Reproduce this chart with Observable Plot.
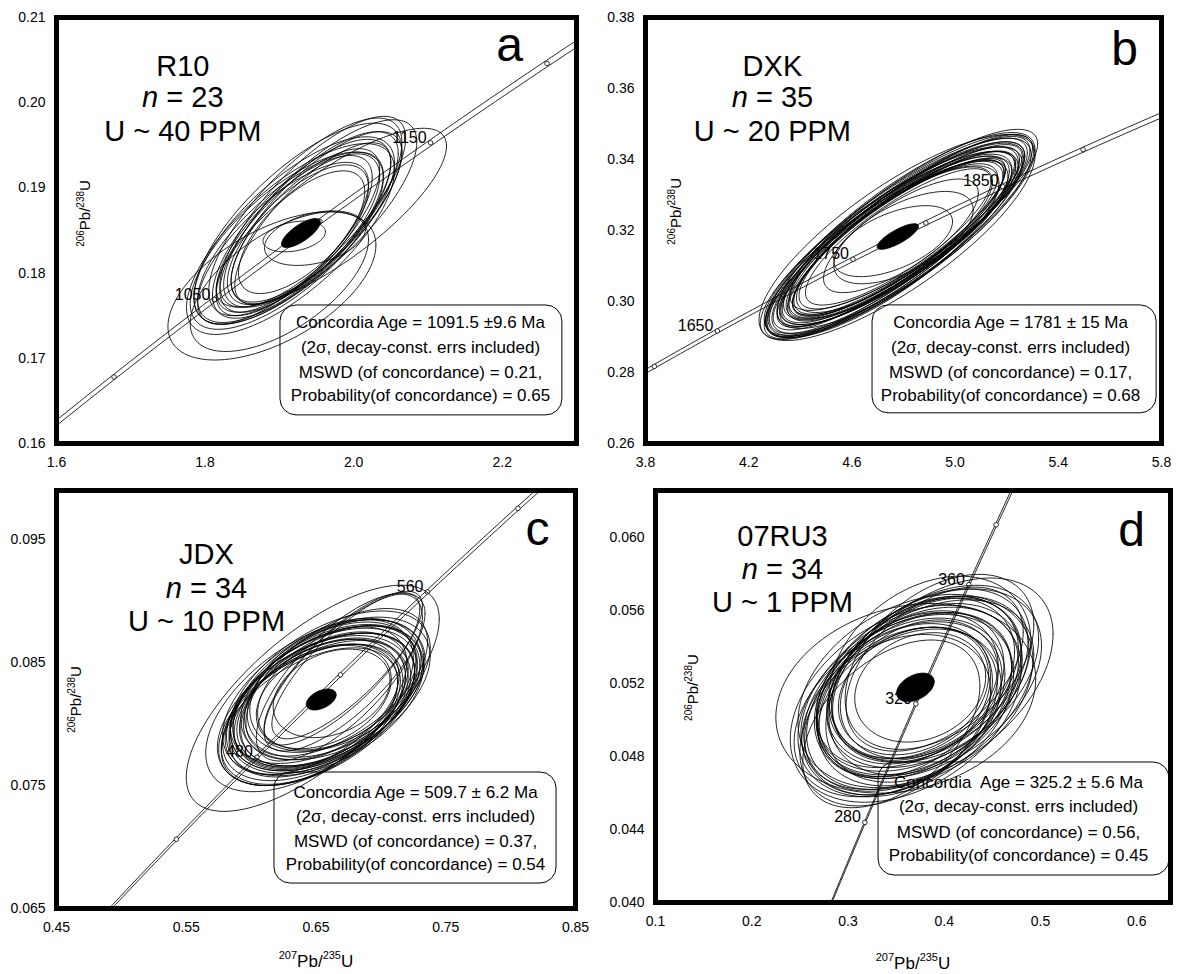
<!DOCTYPE html>
<html><head><meta charset="utf-8">
<script src="https://cdn.jsdelivr.net/npm/d3@7"></script>
<script src="https://cdn.jsdelivr.net/npm/@observablehq/plot@0.6"></script>
<style>
body{margin:0;background:#fff;}
#wrap{position:relative;width:1179px;height:974px;overflow:hidden;background:#fff;}
.panel{position:absolute;}
</style></head><body><div id="wrap"></div>
<script>
const FONT = '"Liberation Sans", Arial, Helvetica, sans-serif';
// decay constants (per year) and relative error used for the concordia band
const L238 = 1.55125e-10, L235 = 9.8485e-10, L235err = 0.0018;

// ---------- Panel a : R10 ----------
const aXTicks = [1.6, 1.8, 2.0, 2.2];
const aYTicks = [0.16, 0.17, 0.18, 0.19, 0.20, 0.21];
// [x, x-halfwidth, y, y-halfwidth, rho]
const aEllipses = [
  [1.970, 0.155, 0.1865, 0.0105, 0.80],
  [1.890, 0.140, 0.1785, 0.0087, 0.55],
  [1.900, 0.120, 0.1790, 0.0082, 0.60],
  [1.925, 0.140, 0.1858, 0.0118, 0.73],
  [1.935, 0.130, 0.1866, 0.0116, 0.75],
  [1.945, 0.125, 0.1872, 0.0112, 0.77],
  [1.920, 0.135, 0.1850, 0.0110, 0.72],
  [1.930, 0.120, 0.1852, 0.0105, 0.74],
  [1.915, 0.125, 0.1842, 0.0100, 0.73],
  [1.940, 0.120, 0.1860, 0.0106, 0.76],
  [1.925, 0.110, 0.1848, 0.0098, 0.75],
  [1.910, 0.130, 0.1838, 0.0104, 0.71],
  [1.950, 0.115, 0.1866, 0.0100, 0.75],
  [1.920, 0.105, 0.1846, 0.0092, 0.72],
  [1.935, 0.100, 0.1852, 0.0088, 0.70],
  [1.905, 0.115, 0.1835, 0.0095, 0.74],
  [1.945, 0.105, 0.1858, 0.0095, 0.76],
  [1.925, 0.095, 0.1845, 0.0082, 0.68],
  [1.948, 0.068, 0.1841, 0.0032, 0.35],
  [1.920, 0.042, 0.1843, 0.0018, 0.30],
  [1.930, 0.085, 0.1848, 0.0072, 0.66],
  [1.915, 0.140, 0.1840, 0.0112, 0.72],
  [1.955, 0.130, 0.1870, 0.0110, 0.76]
];
const aMean = [1.929, 0.026, 0.1847, 0.0017, 0.75];
const aAgeMarks = [1000, 1050, 1100, 1150, 1200];
const aAgeLabels = [1050, 1150];
const aAgeRange = [900, 1300];
const aSample = ["R10", "n = 23", "U ~ 40 PPM"];
const aBoxLines = ["Concordia Age = 1091.5 \u00b19.6 Ma", "(2\u03c3, decay-const. errs included)", "MSWD (of concordance) = 0.21,", "Probability(of concordance) = 0.65"];

// ---------- Panel b : DXK ----------
const bXTicks = [3.8, 4.2, 4.6, 5.0, 5.4, 5.8];
const bYTicks = [0.26, 0.28, 0.30, 0.32, 0.34, 0.36, 0.38];
const bEllipses = [
  [4.775, 0.535, 0.3180, 0.0290, 0.80],
  [4.760, 0.500, 0.3170, 0.0265, 0.83],
  [4.790, 0.480, 0.3190, 0.0260, 0.84],
  [4.800, 0.470, 0.3195, 0.0255, 0.85],
  [4.750, 0.460, 0.3160, 0.0250, 0.83],
  [4.780, 0.500, 0.3185, 0.0275, 0.85],
  [4.770, 0.450, 0.3175, 0.0240, 0.82],
  [4.810, 0.490, 0.3200, 0.0270, 0.86],
  [4.740, 0.480, 0.3150, 0.0255, 0.85],
  [4.795, 0.440, 0.3188, 0.0235, 0.81],
  [4.765, 0.470, 0.3172, 0.0252, 0.86],
  [4.785, 0.510, 0.3182, 0.0278, 0.83],
  [4.755, 0.430, 0.3165, 0.0230, 0.82],
  [4.805, 0.460, 0.3198, 0.0248, 0.84],
  [4.775, 0.420, 0.3178, 0.0225, 0.85],
  [4.820, 0.470, 0.3205, 0.0260, 0.85],
  [4.745, 0.500, 0.3158, 0.0265, 0.83],
  [4.790, 0.455, 0.3192, 0.0244, 0.82],
  [4.760, 0.490, 0.3168, 0.0268, 0.86],
  [4.780, 0.410, 0.3180, 0.0220, 0.83],
  [4.800, 0.430, 0.3190, 0.0232, 0.85],
  [4.770, 0.395, 0.3176, 0.0212, 0.82],
  [4.735, 0.470, 0.3148, 0.0250, 0.82],
  [4.815, 0.445, 0.3202, 0.0240, 0.86],
  [4.785, 0.520, 0.3186, 0.0285, 0.84],
  [4.765, 0.380, 0.3174, 0.0205, 0.80],
  [4.795, 0.400, 0.3194, 0.0215, 0.83],
  [4.750, 0.440, 0.3162, 0.0235, 0.85],
  [4.810, 0.500, 0.3200, 0.0276, 0.82],
  [4.780, 0.360, 0.3182, 0.0192, 0.82],
  [4.800, 0.270, 0.3180, 0.0130, 0.60],
  [4.760, 0.230, 0.3170, 0.0100, 0.55],
  [4.790, 0.300, 0.3185, 0.0160, 0.75],
  [4.840, 0.480, 0.3230, 0.0255, 0.84],
  [4.720, 0.450, 0.3140, 0.0242, 0.80]
];
const bMean = [4.778, 0.080, 0.3183, 0.0036, 0.80];
const bAgeMarks = [1600, 1650, 1700, 1750, 1800, 1850, 1900];
const bAgeLabels = [1650, 1750, 1850];
const bAgeRange = [1500, 2000];
const bSample = ["DXK", "n = 35", "U ~ 20 PPM"];
const bBoxLines = ["Concordia Age = 1781 \u00b1 15 Ma", "(2\u03c3, decay-const. errs included)", "MSWD (of concordance) = 0.17,", "Probability(of concordance) = 0.68"];

// ---------- Panel c : JDX ----------
const cXTicks = [0.45, 0.55, 0.65, 0.75, 0.85];
const cYTicks = [0.065, 0.075, 0.085, 0.095];
const cEllipses = [
  [0.6475, 0.0975, 0.0821, 0.0092, 0.70],
  [0.6450, 0.0800, 0.0815, 0.0070, 0.55],
  [0.6680, 0.0640, 0.0838, 0.0068, 0.72],
  [0.6720, 0.0620, 0.0842, 0.0064, 0.75],
  [0.6560, 0.0720, 0.0820, 0.0058, 0.45],
  [0.6530, 0.0700, 0.0816, 0.0056, 0.42],
  [0.6600, 0.0680, 0.0823, 0.0057, 0.48],
  [0.6520, 0.0740, 0.0814, 0.0060, 0.50],
  [0.6620, 0.0700, 0.0826, 0.0055, 0.40],
  [0.6490, 0.0660, 0.0811, 0.0054, 0.45],
  [0.6570, 0.0760, 0.0819, 0.0061, 0.47],
  [0.6640, 0.0690, 0.0829, 0.0056, 0.43],
  [0.6470, 0.0700, 0.0808, 0.0057, 0.48],
  [0.6550, 0.0640, 0.0818, 0.0052, 0.42],
  [0.6610, 0.0770, 0.0830, 0.0062, 0.52],
  [0.6510, 0.0620, 0.0815, 0.0050, 0.40],
  [0.6580, 0.0720, 0.0822, 0.0058, 0.45],
  [0.6650, 0.0660, 0.0832, 0.0054, 0.38],
  [0.6450, 0.0680, 0.0806, 0.0056, 0.50],
  [0.6540, 0.0600, 0.0820, 0.0049, 0.40],
  [0.6600, 0.0740, 0.0825, 0.0060, 0.46],
  [0.6500, 0.0760, 0.0812, 0.0062, 0.50],
  [0.6700, 0.0600, 0.0845, 0.0062, 0.78],
  [0.6740, 0.0580, 0.0848, 0.0060, 0.80],
  [0.6630, 0.0580, 0.0827, 0.0048, 0.38],
  [0.6560, 0.0520, 0.0822, 0.0042, 0.35],
  [0.6620, 0.0450, 0.0825, 0.0036, 0.30],
  [0.6500, 0.0700, 0.0819, 0.0060, 0.52],
  [0.6580, 0.0800, 0.0823, 0.0064, 0.50],
  [0.6620, 0.0650, 0.0830, 0.0053, 0.42],
  [0.6480, 0.0730, 0.0809, 0.0059, 0.50],
  [0.6550, 0.0710, 0.0818, 0.0056, 0.44],
  [0.6660, 0.0700, 0.0834, 0.0060, 0.55],
  [0.6530, 0.0660, 0.0816, 0.0053, 0.43]
];
const cMean = [0.654, 0.0115, 0.0820, 0.00085, 0.45];
const cAgeMarks = [440, 480, 520, 560, 600];
const cAgeLabels = [480, 560];
const cAgeRange = [380, 650];
const cSample = ["JDX", "n = 34", "U ~ 10 PPM"];
const cBoxLines = ["Concordia Age = 509.7 \u00b1 6.2 Ma", "(2\u03c3, decay-const. errs included)", "MSWD (of concordance) = 0.37,", "Probability(of concordance) = 0.54"];

// ---------- Panel d : 07RU3 ----------
const dXTicks = [0.1, 0.2, 0.3, 0.4, 0.5, 0.6];
const dYTicks = [0.040, 0.044, 0.048, 0.052, 0.056, 0.060];
const dEllipses = [
  [0.360, 0.135, 0.0512, 0.0052, 0.20],
  [0.395, 0.118, 0.0522, 0.0056, 0.45],
  [0.385, 0.105, 0.0528, 0.0051, 0.30],
  [0.350, 0.100, 0.0502, 0.0049, 0.40],
  [0.372, 0.105, 0.0516, 0.0046, 0.35],
  [0.365, 0.098, 0.0512, 0.0044, 0.30],
  [0.378, 0.110, 0.0520, 0.0048, 0.40],
  [0.360, 0.112, 0.0508, 0.0050, 0.35],
  [0.370, 0.092, 0.0518, 0.0042, 0.30],
  [0.385, 0.102, 0.0525, 0.0047, 0.38],
  [0.355, 0.100, 0.0505, 0.0046, 0.33],
  [0.375, 0.118, 0.0514, 0.0052, 0.42],
  [0.368, 0.088, 0.0519, 0.0040, 0.28],
  [0.382, 0.098, 0.0522, 0.0045, 0.36],
  [0.362, 0.108, 0.0510, 0.0049, 0.37],
  [0.370, 0.122, 0.0516, 0.0053, 0.32],
  [0.390, 0.092, 0.0528, 0.0045, 0.45],
  [0.350, 0.098, 0.0503, 0.0044, 0.30],
  [0.374, 0.082, 0.0517, 0.0038, 0.25],
  [0.366, 0.115, 0.0513, 0.0051, 0.40],
  [0.380, 0.100, 0.0519, 0.0049, 0.34],
  [0.358, 0.090, 0.0511, 0.0042, 0.31],
  [0.372, 0.105, 0.0521, 0.0047, 0.39],
  [0.364, 0.095, 0.0507, 0.0043, 0.29],
  [0.388, 0.110, 0.0524, 0.0050, 0.41],
  [0.368, 0.078, 0.0516, 0.0035, 0.25],
  [0.375, 0.068, 0.0518, 0.0030, 0.20],
  [0.360, 0.120, 0.0509, 0.0054, 0.36],
  [0.378, 0.095, 0.0523, 0.0044, 0.33],
  [0.352, 0.108, 0.0506, 0.0048, 0.38],
  [0.383, 0.118, 0.0520, 0.0052, 0.40],
  [0.370, 0.100, 0.0514, 0.0045, 0.35],
  [0.345, 0.092, 0.0498, 0.0046, 0.45],
  [0.395, 0.098, 0.0532, 0.0048, 0.42]
];
const dMean = [0.370, 0.0195, 0.0518, 0.00078, 0.40];
const dAgeMarks = [280, 320, 360, 380];
const dAgeLabels = [280, 320, 360];
const dAgeRange = [240, 420];
const dSample = ["07RU3", "n = 34", "U ~ 1 PPM"];
const dBoxLines = ["Concordia  Age = 325.2 \u00b1 5.6 Ma", "(2\u03c3, decay-const. errs included)", "MSWD (of concordance) = 0.56,", "Probability(of concordance) = 0.45"];

const yTitle = "^206Pb/^238U";
const xTitle = "^207Pb/^235U";

// ---------- layout (positions in pixels / data units) ----------
const panels = [
  {left:0, top:0, width:590, height:480, margin:[17,14,37,56], xDomain:[1.6,2.3], yDomain:[0.16,0.21],
   xTicks:aXTicks, yTicks:aYTicks, xFmt:".1f", yFmt:".2f", ell:aEllipses, mean:aMean, marks:aAgeMarks, labels:aAgeLabels, range:aAgeRange,
   sample:aSample, sampleX:1.770, sampleY:[0.20319,0.19944,0.19556], letter:"a", letterXY:[2.2098,0.20495],
   box:[1.9015,2.281,0.1633,0.1762], boxLines:aBoxLines, boxX:2.09, boxY:[0.1742,0.1713,0.1683,0.1656], yLab:[1.639,0.187], xTitleDy:null},
  {left:590, top:0, width:589, height:480, margin:[17,18,37,55], xDomain:[3.8,5.8], yDomain:[0.26,0.38],
   xTicks:bXTicks, yTicks:bYTicks, xFmt:".1f", yFmt:".2f", ell:bEllipses, mean:bMean, marks:bAgeMarks, labels:bAgeLabels, range:bAgeRange,
   sample:bSample, sampleX:4.292, sampleY:[0.36366,0.35465,0.34535], letter:"b", letterXY:[5.657,0.36648],
   box:[4.680,5.781,0.2685,0.2989], boxLines:bBoxLines, boxX:5.215, boxY:[0.2941,0.2870,0.2800,0.2735], yLab:[3.92,0.3254], xTitleDy:null},
  {left:0, top:480, width:590, height:494, margin:[10,15,66,56], xDomain:[0.45,0.85], yDomain:[0.065,0.099],
   xTicks:cXTicks, yTicks:cYTicks, xFmt:".2f", yFmt:".3f", ell:cEllipses, mean:cMean, marks:cAgeMarks, labels:cAgeLabels, range:cAgeRange,
   sample:cSample, sampleX:0.5656, sampleY:[0.09306,0.09022,0.08761], letter:"c", letterXY:[0.8207,0.09453],
   box:[0.618,0.8354,0.06703,0.07606], boxLines:cBoxLines, boxX:0.7267, boxY:[0.07444,0.07248,0.07045,0.06858], yLab:[0.4654,0.0820], xTitleDy:58},
  {left:590, top:480, width:589, height:494, margin:[10,9,72,65], xDomain:[0.1,0.635], yDomain:[0.040,0.0626],
   xTicks:dXTicks, yTicks:dYTicks, xFmt:".1f", yFmt:".3f", ell:dEllipses, mean:dMean, marks:dAgeMarks, labels:dAgeLabels, range:dAgeRange,
   sample:dSample, sampleX:0.2319, sampleY:[0.05958,0.05777,0.05591], letter:"d", letterXY:[0.5945,0.05958],
   box:[0.3317,0.634,0.04148,0.04768], boxLines:dBoxLines, boxX:0.4771, boxY:[0.04658,0.04527,0.04384,0.04258], yLab:[0.1395,0.05179], xTitleDy:66}
];

function conc(tMa, f) { const t = tMa * 1e6; return {x: Math.exp(L235 * f * t) - 1, y: Math.exp(L238 * t) - 1, age: tMa}; }
function ellipsePts(e, id) {
  const [cx, sx, cy, sy, rho] = e, k = Math.sqrt(1 - rho * rho);
  return d3.range(0, 121).map(i => { const t = i / 120 * 2 * Math.PI;
    return {id, x: cx + sx * Math.cos(t), y: cy + sy * (rho * Math.cos(t) + k * Math.sin(t))}; });
}

function richText(svg) {
  d3.select(svg).selectAll("text").each(function () {
    const s = this.textContent;
    if (s.includes("^")) {
      const base = parseFloat(getComputedStyle(this).fontSize) || 15;
      const supSize = Math.round(base * 0.65), shift = base * 0.42;
      const parts = s.split(/(\^\d+)/).filter(p => p.length);
      this.textContent = "";
      let raised = false;
      for (const p of parts) {
        const ts = document.createElementNS("http://www.w3.org/2000/svg", "tspan");
        if (p.startsWith("^")) {
          ts.textContent = p.slice(1); ts.setAttribute("font-size", supSize);
          ts.setAttribute("dy", raised ? 0 : -shift); raised = true;
        } else {
          ts.textContent = p; ts.setAttribute("dy", raised ? shift : 0); raised = false;
        }
        this.appendChild(ts);
      }
    } else if (/^n = /.test(s)) {
      this.textContent = "";
      const a = document.createElementNS("http://www.w3.org/2000/svg", "tspan");
      a.textContent = "n"; a.setAttribute("font-style", "italic");
      const b = document.createElementNS("http://www.w3.org/2000/svg", "tspan");
      b.textContent = s.slice(1);
      this.appendChild(a); this.appendChild(b);
    }
  });
}

const wrap = document.getElementById("wrap");
for (const p of panels) {
  const [mt, mr, mb, ml] = p.margin;
  const lo = d3.range(p.range[0], p.range[1] + 0.1, 2).map(t => conc(t, 1 - L235err));
  const hi = d3.range(p.range[0], p.range[1] + 0.1, 2).map(t => conc(t, 1 + L235err));
  const markPts = p.marks.map(t => conc(t, 1));
  const labelPts = p.labels.map(t => conc(t, 1));
  const ellPts = p.ell.flatMap((e, i) => ellipsePts(e, i));
  const meanPts = ellipsePts(p.mean, 0);
  const sampleData = p.sample.map((t, i) => ({text: t, x: p.sampleX, y: p.sampleY[i]}));
  const boxData = p.boxLines.map((t, i) => ({text: t, x: p.boxX, y: p.boxY[i]}));
  const marks = [
    Plot.axisX({ticks: p.xTicks, tickFormat: d3.format(p.xFmt), tickSize: 0, tickPadding: 14, fontSize: 14, label: null}),
    Plot.axisY({ticks: p.yTicks, tickFormat: d3.format(p.yFmt), tickSize: 0, tickPadding: 11, fontSize: 14, label: null}),
    Plot.line(lo, {x: "x", y: "y", stroke: "black", strokeWidth: 0.85, clip: true}),
    Plot.line(hi, {x: "x", y: "y", stroke: "black", strokeWidth: 0.85, clip: true}),
    Plot.text(labelPts, {x: "x", y: "y", text: d => String(d.age), textAnchor: "end", lineAnchor: "bottom", dx: -4, dy: 0, fontSize: 16, fill: "black"}),
    Plot.dot(markPts, {x: "x", y: "y", r: 2.3, fill: "white", stroke: "black", strokeWidth: 0.8, clip: true}),
    Plot.line(ellPts, {x: "x", y: "y", z: "id", stroke: "black", strokeWidth: 0.85, clip: true}),
    Plot.line(meanPts, {x: "x", y: "y", fill: "black", stroke: "black", strokeWidth: 1}),
    Plot.rect([p.box], {x1: d => d[0], x2: d => d[1], y1: d => d[2], y2: d => d[3], rx: 16, ry: 16, fill: "none", stroke: "black", strokeWidth: 1}),
    Plot.text(boxData, {x: "x", y: "y", text: "text", textAnchor: "middle", lineAnchor: "middle", fontSize: 17, fill: "black"}),
    Plot.text(sampleData, {x: "x", y: "y", text: "text", textAnchor: "middle", lineAnchor: "bottom", fontSize: 29, fill: "black"}),
    Plot.text([p.letterXY], {x: d => d[0], y: d => d[1], text: () => p.letter, textAnchor: "middle", lineAnchor: "bottom", fontSize: 48, fill: "black"}),
    Plot.text([p.yLab], {x: d => d[0], y: d => d[1], text: () => yTitle, rotate: -90, textAnchor: "middle", lineAnchor: "middle", fontSize: 15, fill: "black"}),
    Plot.frame({stroke: "black", strokeWidth: 5})
  ];
  if (p.xTitleDy != null) {
    marks.push(Plot.text([0], {frameAnchor: "bottom", text: () => xTitle, dy: p.xTitleDy, lineAnchor: "bottom", fontSize: 17, fill: "black"}));
  }
  const svg = Plot.plot({
    width: p.width, height: p.height,
    marginTop: mt, marginRight: mr, marginBottom: mb, marginLeft: ml,
    x: {domain: p.xDomain}, y: {domain: p.yDomain},
    style: {fontFamily: FONT, background: "transparent", color: "black", overflow: "visible"},
    marks
  });
  const div = document.createElement("div");
  div.className = "panel";
  div.style.left = p.left + "px"; div.style.top = p.top + "px";
  div.appendChild(svg);
  wrap.appendChild(div);
  richText(svg);
}
</script></body></html>
